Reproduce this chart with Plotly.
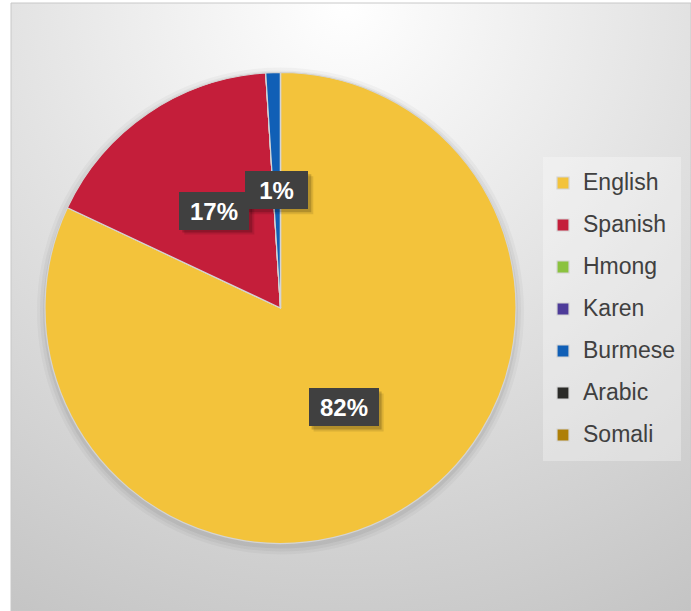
import math, base64
import plotly.graph_objects as go

# ---- data ----
languages = ["English", "Spanish", "Hmong", "Karen", "Burmese", "Arabic", "Somali"]
shares = [82, 17, 0, 0, 1, 0, 0]
colors = ["#F3C33B", "#C41E3A", "#8BC23F", "#4D3B99", "#105FB6", "#2B2B28", "#AE7F07"]

# ---- layout constants ----
W, H = 691, 611
CX, CY, R = 280.5, 308.0, 235.5          # pie centre / radius in px
BG_X0, BG_Y0 = 11, 3                     # chart-area origin

# radial gradient background as an inline svg image
bw, bh = W - BG_X0, H - BG_Y0
svg = (f'<svg xmlns="http://www.w3.org/2000/svg" width="{bw}" height="{bh}" viewBox="0 0 {bw} {bh}">'
       f'<defs><radialGradient id="g" gradientUnits="userSpaceOnUse" cx="{bw*0.49}" cy="0" r="{bh*1.15}">'
       f'<stop offset="0" stop-color="#ffffff"/><stop offset="1" stop-color="#c4c4c4"/>'
       f'</radialGradient></defs><rect width="{bw}" height="{bh}" fill="url(#g)"/></svg>')
bg_src = "data:image/svg+xml;base64," + base64.b64encode(svg.encode()).decode()

legend_labels = [f"<span style='font-size:23px;baseline-shift:5px'>{l}</span>" for l in languages]

fig = go.Figure()
fig.add_trace(go.Pie(
    labels=legend_labels,
    values=shares,
    sort=False,
    direction="clockwise",
    rotation=0,
    textinfo="none",
    marker=dict(colors=colors, line=dict(color="#d4d4d4", width=1.2)),
    domain=dict(x=[(CX - R) / W, (CX + R) / W], y=[(H - CY - R) / H, (H - CY + R) / H]),
    hoverinfo="label+percent",
))

# soft shadow behind the pie
pie_shadow = []
for grow, alpha in [(8, 0.03), (5, 0.04), (2, 0.05)]:
    pie_shadow.append(dict(type="circle", xref="paper", yref="paper",
                           x0=(CX - R - grow) / W, x1=(CX + R + grow) / W,
                           y0=1 - (CY + R + grow + 3) / H, y1=1 - (CY - R - grow + 3) / H,
                           line=dict(width=0), fillcolor=f"rgba(0,0,0,{alpha})", layer="below"))

# data labels: dark boxes at half radius on each slice's mid-angle
total = sum(shares)
cum = 0
annotations, shadows = [], []
for lab, v in zip(languages, shares):
    if v == 0:
        continue
    mid = (cum + v / 2) / total * 2 * math.pi
    cum += v
    px = CX + 0.5 * R * math.sin(mid)
    py = CY - 0.5 * R * math.cos(mid)
    txt = f"{round(v / total * 100)}%"
    bw_lab = 64 if len(txt) >= 3 else 57
    ow, oh = bw_lab + 6, 38
    for s, a in [(5, 0.10), (3, 0.18)]:
        shadows.append(dict(type="rect", xref="paper", yref="paper",
                            x0=(px - ow / 2 + s) / W, x1=(px + ow / 2 + s) / W,
                            y0=1 - (py + oh / 2 + s) / H, y1=1 - (py - oh / 2 + s) / H,
                            line=dict(width=0), fillcolor=f"rgba(0,0,0,{a})", layer="above"))
    annotations.append(dict(text=f"<b>{txt}</b>", xref="paper", yref="paper",
                            x=px / W, y=1 - py / H, xanchor="center", yanchor="middle",
                            showarrow=False, width=bw_lab, height=32, borderpad=3, borderwidth=0,
                            font=dict(color="white", size=24, family="Liberation Sans, Arial"),
                            bgcolor="#404040"))

fig.update_layout(
    width=W, height=H,
    margin=dict(l=0, r=0, t=0, b=0),
    paper_bgcolor="white",
    plot_bgcolor="rgba(0,0,0,0)",
    font=dict(family="Liberation Sans, Arial", color="#404040"),
    images=[dict(source=bg_src, xref="paper", yref="paper", x=BG_X0 / W, y=1 - BG_Y0 / H,
                 sizex=bw / W, sizey=bh / H, xanchor="left", yanchor="top",
                 sizing="stretch", layer="below")],
    shapes=[dict(type="rect", xref="paper", yref="paper", x0=BG_X0 / W, x1=1, y0=0, y1=1 - BG_Y0 / H,
                 line=dict(color="#c8c8c8", width=1), fillcolor="rgba(0,0,0,0)", layer="below")]
           + pie_shadow + shadows,
    annotations=annotations,
    legend=dict(x=543 / W, y=1 - 157 / H, xanchor="left", yanchor="top",
                bgcolor="rgba(255,255,255,0.3)", font=dict(size=30, color="#404040"),
                itemclick=False, itemdoubleclick=False),
    showlegend=True,
)

fig.write_html("out.html", config={"displayModeBar": False},
               post_script="document.body.style.margin='0';document.body.style.overflow='hidden';")
